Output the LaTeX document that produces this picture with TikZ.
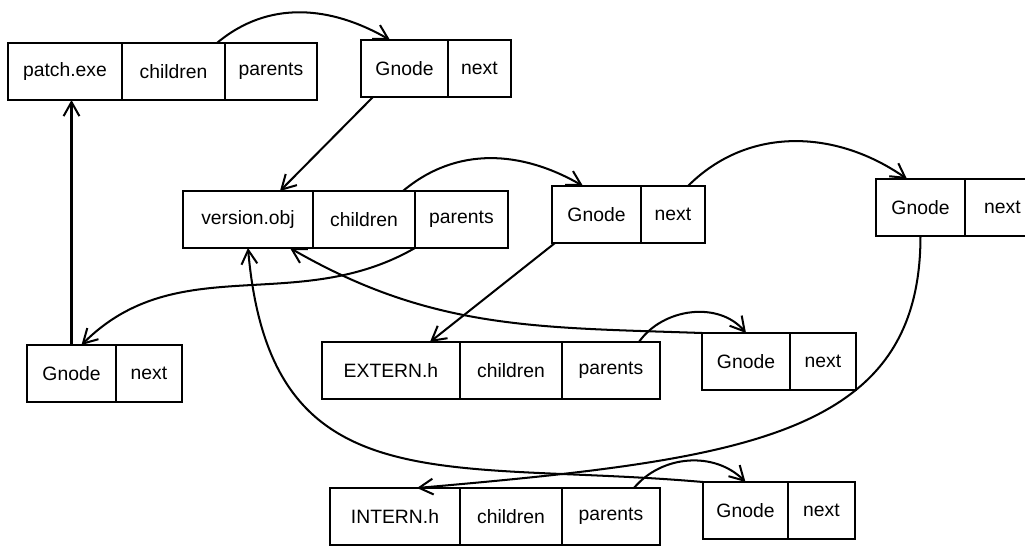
\documentclass[tikz,border=0pt]{standalone}
\usepackage{fontspec}
\setmainfont{Liberation Sans}
\usepackage{tikz}
\usetikzlibrary{positioning,arrows.meta}

\begin{document}
\begin{tikzpicture}[x=0.02cm,y=-0.02cm,font=\fontsize{11}{13}\selectfont,
  fld/.style={draw,line width=1.3pt,inner sep=0pt,outer sep=0pt,minimum height=1.14cm,minimum width=#1},
  lnk/.style={line width=1.15pt,-{Straight Barb[length=8pt,width=9pt]}}]
\useasboundingbox (0,0) rectangle (1025,545);
% records: name, children, parents
\foreach \n/\t/\x/\y/\wa/\wb/\wc in %
{pex/patch.exe/8/43/2.28/2.06/1.84,vob/version.obj/183/191/2.6/2.04/1.86,
 exh/EXTERN.h/322/342/2.76/2.04/1.96,inh/INTERN.h/330/488/2.6/2.04/1.96} {
   \node[fld=\wa cm,anchor=north west] (\n) at (\x,\y) {\t};
   \node[fld=\wb cm,right=0pt of \n] (c\n) {children};
   \node[fld=\wc cm,right=0pt of c\n] (p\n) {parents};
}
% list cells
\foreach \n/\x/\y/\wa/\wb in %
{ga/361/40/1.74/1.26,gb/552/186/1.78/1.28,gc/876/179/1.78/1.5,
 gd/27/345/1.78/1.32,ge/702/333/1.76/1.32,gf/703/482/1.7/1.34} {
   \node[fld=\wa cm,anchor=north west] (\n) at (\x,\y) {Gnode};
   \node[fld=\wb cm,right=0pt of \n] (n\n) {next};
}
\draw[lnk] ([xshift=-0.16cm]cpex.north east) to[out=40,in=150] ([xshift=0.58cm]ga.north west);
\draw[lnk] ([xshift=0.24cm]ga.south west) -- ([xshift=-0.66cm]vob.north east);
\draw[lnk] (gd.north) -- (gd.north |- pex.south);
\draw[lnk] ([xshift=-0.24cm]cvob.north east) to[out=40,in=150] ([xshift=0.62cm]gb.north west);
\draw[lnk] (pvob.south west) to[out=210,in=45] ([xshift=0.2cm]gd.north);
\draw[lnk] ([xshift=-0.34cm]ngb.north east) to[out=45,in=145] ([xshift=0.62cm]gc.north west);
\draw[lnk] ([xshift=0.06cm]gb.south west) -- ([xshift=-0.6cm]exh.north east);
\draw[lnk] ([xshift=-0.42cm]pexh.north east) to[out=55,in=130] (ge.north);
\draw[lnk] (ge.north west) to[out=178,in=-30] ([xshift=-0.46cm]vob.south east);
\draw[lnk] (gc.south) to[out=-90,in=5,out distance=4cm,in distance=6.6cm] ([xshift=-0.86cm]inh.north east);
\draw[lnk] ([xshift=-0.52cm]pinh.north east) to[out=50,in=135] (gf.north);
\draw[lnk] (gf.north west) to[out=175,in=-85,looseness=1.3] (vob.south);
\end{tikzpicture}
\end{document}
